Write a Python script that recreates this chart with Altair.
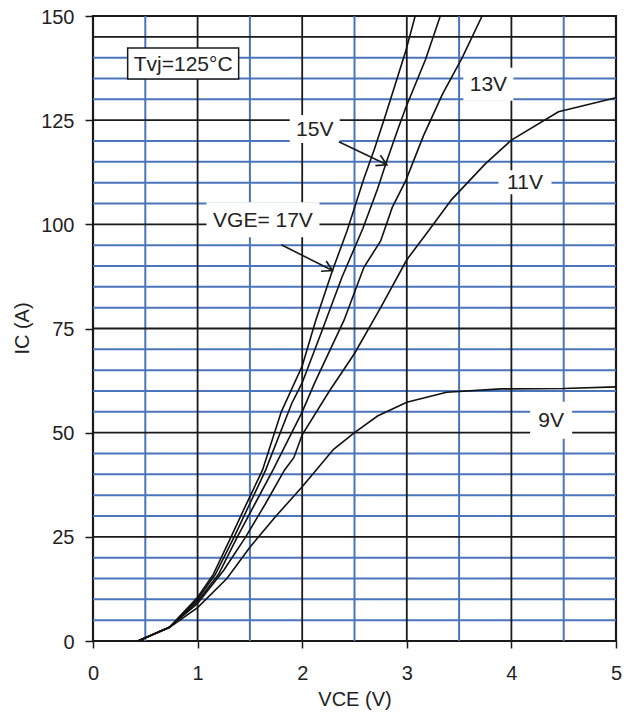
import altair as alt
import pandas as pd

# ---- curve data (VCE in V, IC in A) ----
V17 = [0.43, 0.73, 1.0, 1.15, 1.32, 1.45, 1.62, 1.8, 2.0, 2.13, 2.29, 2.43, 2.59, 2.69, 2.8, 2.89, 2.99, 3.08]
I17 = [0, 3.3, 10.5, 16, 25, 32, 41, 55, 66, 77, 89, 98.5, 111, 118, 126.5, 133.6, 141.6, 150]
V15 = [0.43, 0.73, 1.0, 1.17, 1.35, 1.5, 1.65, 1.9, 2.0, 2.19, 2.38, 2.58, 2.72, 2.81, 2.92, 2.99, 3.18, 3.32]
I15 = [0, 3.3, 10, 16, 25, 33, 41, 57, 62, 74.5, 87.3, 99, 108.5, 115.3, 123.2, 128, 139.6, 150]
V13 = [0.43, 0.73, 1.0, 1.2, 1.38, 1.55, 1.72, 2.0, 2.12, 2.4, 2.59, 2.75, 2.86, 2.99, 3.16, 3.34, 3.53, 3.72]
I13 = [0, 3.3, 9.5, 16, 25, 33, 41, 55, 62, 77, 89.7, 96, 104, 110.5, 121.3, 131.2, 140, 150]
V11 = [0.43, 0.73, 1.0, 1.25, 1.46, 1.65, 1.83, 1.92, 2.0, 2.26, 2.5, 2.75, 3.0, 3.21, 3.43, 3.75, 4.0, 4.45, 5.0]
I11 = [0, 3.3, 9, 17, 25, 33, 41, 44, 49.5, 60, 69, 80, 91.5, 98.5, 106, 114.5, 120.2, 127, 130.4]
V9 = [0.43, 0.73, 1.0, 1.28, 1.5, 1.75, 2.0, 2.3, 2.5, 2.72, 3.0, 3.38, 3.9, 4.5, 5.0]
I9 = [0, 3.2, 8, 15, 22.5, 30, 37, 46, 50, 54, 57.3, 59.7, 60.5, 60.6, 61]

# ---- axis ticks / grid ----
X_TICKS = [0, 1, 2, 3, 4, 5]
Y_TICKS = [0, 25, 50, 75, 100, 125, 150]
X_MAJOR = [1, 2, 3, 4]
X_MINOR = [0.5, 1.5, 2.5, 3.5, 4.5]
Y_MAJOR = [25, 50, 75, 100, 125, 145]
Y_MINOR = [5, 10, 15, 20, 30, 35, 40, 45, 55, 60, 65, 70, 80, 85, 90, 95,
           105, 110, 115, 120, 130, 135, 140]

# ---- annotations ----
LABELS = ["Tvj=125°C", "15V", "13V", "11V", "9V", "VGE= 17V"]
LABEL_X = [0.862, 2.12, 3.78, 4.13, 4.38, 1.625]
LABEL_Y = [138.6, 122.9, 133.6, 110.1, 53.0, 101.1]
ARROW_X1 = [2.35, 1.80]
ARROW_Y1 = [119.8, 95.1]
ARROW_X2 = [2.81, 2.29]
ARROW_Y2 = [114.3, 88.9]
ARROW_ANGLE = [25.6, 26.7]

curves = []
for name, vs, cs in [("17V", V17, I17), ("15V", V15, I15), ("13V", V13, I13),
                     ("11V", V11, I11), ("9V", V9, I9)]:
    for k, (v, c) in enumerate(zip(vs, cs)):
        curves.append({"vge": name, "x": v, "y": c, "k": k})
curves = pd.DataFrame(curves)

FONT = "Liberation Sans"
X = alt.X("x:Q", scale=alt.Scale(domain=[0, 5], nice=False, zero=False),
          axis=alt.Axis(values=X_TICKS, format="d", title="VCE (V)", grid=False,
                        tickSize=7, tickWidth=1.5, tickColor="#1a1a1a",
                        labelPadding=15, labelFontSize=20, labelFont=FONT,
                        labelColor="#222", titleFont=FONT, titleFontSize=20,
                        titleFontWeight="normal", titleColor="#222",
                        titleBaseline="alphabetic", titleY=64,
                        domain=False, labelFlush=False))
Y = alt.Y("y:Q", scale=alt.Scale(domain=[0, 150], nice=False, zero=False),
          axis=alt.Axis(values=Y_TICKS, format="d", title="IC (A)", grid=False,
                        tickSize=8, tickWidth=1.5, tickColor="#1a1a1a",
                        labelPadding=11, labelFontSize=20, labelFont=FONT,
                        labelColor="#222", labelOffset=1,
                        titleFont=FONT, titleFontSize=20,
                        titleFontWeight="normal", titleColor="#222",
                        titleX=-71, titleY=312, titleAngle=270,
                        titleBaseline="middle", titleAlign="center",
                        domain=False, labelFlush=False))

BLUE = "#4a74bb"
BLACK = "#1a1a1a"

vminor = alt.Chart(pd.DataFrame({"x": X_MINOR})).mark_rule(color=BLUE, strokeWidth=2).encode(x=X)
hminor = alt.Chart(pd.DataFrame({"y": Y_MINOR})).mark_rule(color=BLUE, strokeWidth=2).encode(y=Y)
vmajor = alt.Chart(pd.DataFrame({"x": X_MAJOR})).mark_rule(color=BLACK, strokeWidth=1.8).encode(x=X)
hmajor = alt.Chart(pd.DataFrame({"y": Y_MAJOR})).mark_rule(color=BLACK, strokeWidth=1.8).encode(y=Y)

lines = alt.Chart(curves).mark_line(color="#111", strokeWidth=1.6, clip=True).encode(
    x=X, y=Y, detail="vge:N", order="k:Q")

BOX_PATHS = [
    "M-5.55,-1.55L5.55,-1.55L5.55,1.55L-5.55,1.55Z",
    "M-2.5,-1.4L2.5,-1.4L2.5,1.4L-2.5,1.4Z",
    "M-2.5,-1.65L2.5,-1.65L2.5,1.65L-2.5,1.65Z",
    "M-2.65,-1.2L2.65,-1.2L2.65,1.2L-2.65,1.2Z",
    "M-2.1,-1.85L2.1,-1.85L2.1,1.85L-2.1,1.85Z",
    "M-5.65,-1.75L5.65,-1.75L5.65,1.75L-5.65,1.75Z",
]
labels = pd.DataFrame({"x": LABEL_X, "y": LABEL_Y, "label": LABELS,
                       "border": [1, 0, 0, 0, 0, 0]})
boxes = alt.Chart(labels).mark_point(filled=True, fill="white", opacity=1, size=400).encode(
    x=X, y=Y,
    shape=alt.Shape("label:N", scale=alt.Scale(domain=LABELS, range=BOX_PATHS), legend=None),
    stroke=alt.condition("datum.border == 1", alt.value(BLACK), alt.value("white")),
    strokeWidth=alt.condition("datum.border == 1", alt.value(1.5), alt.value(0)),
)
texts = alt.Chart(labels).mark_text(font=FONT, fontSize=21, color="#222",
                                    align="center", baseline="middle", dy=1).encode(
    x=X, y=Y, text="label:N")

arrows = pd.DataFrame({"x": ARROW_X1, "y": ARROW_Y1, "x2": ARROW_X2, "y2": ARROW_Y2,
                       "ang": ARROW_ANGLE})
shafts = alt.Chart(arrows).mark_rule(color=BLACK, strokeWidth=1.6).encode(
    x=X, y=Y, x2="x2:Q", y2="y2:Q")
heads = alt.Chart(arrows).mark_point(
    shape="M-2,-1.15L0,0L-2,1.15", filled=False, stroke=BLACK, strokeWidth=1.6,
    size=100, opacity=1).encode(
    x=alt.X("x2:Q", scale=alt.Scale(domain=[0, 5], nice=False, zero=False)),
    y=alt.Y("y2:Q", scale=alt.Scale(domain=[0, 150], nice=False, zero=False)),
    angle=alt.Angle("ang:Q", scale=None))

chart = alt.layer(vminor, hminor, vmajor, hmajor, lines, boxes, texts, shafts, heads).properties(
    width=523, height=625,
    autosize=alt.AutoSizeParams(type="none"),
    padding={"left": 85, "top": 8, "right": 7, "bottom": 70},
).configure_view(stroke=BLACK, strokeWidth=2.2)

chart.save("out.html", embed_options={"renderer": "svg", "actions": False})
